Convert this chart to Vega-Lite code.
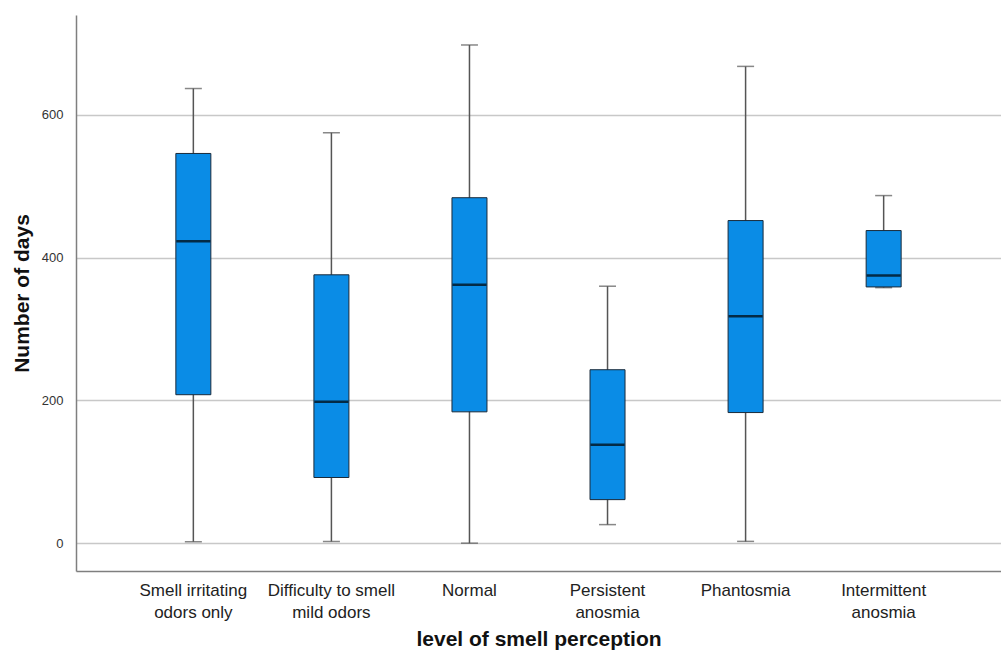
{
  "$schema": "https://vega.github.io/schema/vega-lite/v6.json",
  "width": 925,
  "height": 556,
  "autosize": {"type": "none"},
  "padding": {"left": 76, "top": 15, "right": 0, "bottom": 81},
  "background": "white",
  "config": {
    "view": {"stroke": null},
    "font": "Liberation Sans"
  },
  "data": {
    "values": [
      {"cat": "Smell irritating odors only", "lower": 2, "q1": 208, "median": 423, "q3": 546, "upper": 637},
      {"cat": "Difficulty to smell mild odors", "lower": 2.5, "q1": 92, "median": 198, "q3": 376, "upper": 575},
      {"cat": "Normal", "lower": 0, "q1": 184, "median": 362, "q3": 484, "upper": 698},
      {"cat": "Persistent anosmia", "lower": 26, "q1": 61, "median": 138, "q3": 243, "upper": 360},
      {"cat": "Phantosmia", "lower": 2.5, "q1": 183, "median": 318, "q3": 452, "upper": 668},
      {"cat": "Intermittent anosmia", "lower": 358, "q1": 359, "median": 375, "q3": 438, "upper": 487}
    ]
  },
  "encoding": {
    "x": {
      "field": "cat",
      "type": "nominal",
      "sort": null,
      "scale": {"paddingInner": 0, "paddingOuter": 0.35},
      "axis": {
        "title": "level of smell perception",
        "titleFontSize": 21,
        "titleFontWeight": "bold",
        "titleColor": "#111111",
        "titlePadding": 8,
        "labelAngle": 0,
        "labelFontSize": 17,
        "labelColor": "#222222",
        "labelLineHeight": 22,
        "labelPadding": 11,
        "labelBaseline": "top",
        "ticks": false,
        "domainColor": "#7f7f7f",
        "domainWidth": 1.5,
        "labelExpr": "datum.label == 'Smell irritating odors only' ? ['Smell irritating', 'odors only'] : datum.label == 'Difficulty to smell mild odors' ? ['Difficulty to smell', 'mild odors'] : datum.label == 'Persistent anosmia' ? ['Persistent', 'anosmia'] : datum.label == 'Intermittent anosmia' ? ['Intermittent', 'anosmia'] : datum.label"
      }
    }
  },
  "layer": [
    {
      "mark": {"type": "rule", "color": "#555555", "strokeWidth": 1.5},
      "encoding": {
        "y": {
          "field": "lower",
          "type": "quantitative",
          "scale": {"domain": [-39, 740], "nice": false, "zero": false},
          "axis": {
            "title": "Number of days",
            "titleFontSize": 21,
            "titleFontWeight": "bold",
            "titleColor": "#111111",
            "titlePadding": 9,
            "values": [0, 200, 400, 600],
            "labelFontSize": 13,
            "labelColor": "#333333",
            "labelPadding": 5,
            "tickSize": 8,
            "tickColor": "#ffffff",
            "tickOpacity": 0,
            "grid": true,
            "gridColor": "#c8c8c8",
            "gridWidth": 1.5,
            "domainColor": "#7f7f7f",
            "domainWidth": 1.5
          }
        },
        "y2": {"field": "upper"}
      }
    },
    {
      "mark": {"type": "tick", "color": "#555555", "thickness": 1.5, "size": 17},
      "encoding": {"y": {"field": "lower", "type": "quantitative"}}
    },
    {
      "mark": {"type": "tick", "color": "#555555", "thickness": 1.5, "size": 17},
      "encoding": {"y": {"field": "upper", "type": "quantitative"}}
    },
    {
      "mark": {"type": "bar", "size": 35, "color": "#0a8ce6", "stroke": "#1a2a3a", "strokeWidth": 1},
      "encoding": {
        "y": {"field": "q1", "type": "quantitative"},
        "y2": {"field": "q3"}
      }
    },
    {
      "mark": {"type": "tick", "color": "#000000", "thickness": 2.5, "size": 34},
      "encoding": {"y": {"field": "median", "type": "quantitative"}}
    }
  ]
}
